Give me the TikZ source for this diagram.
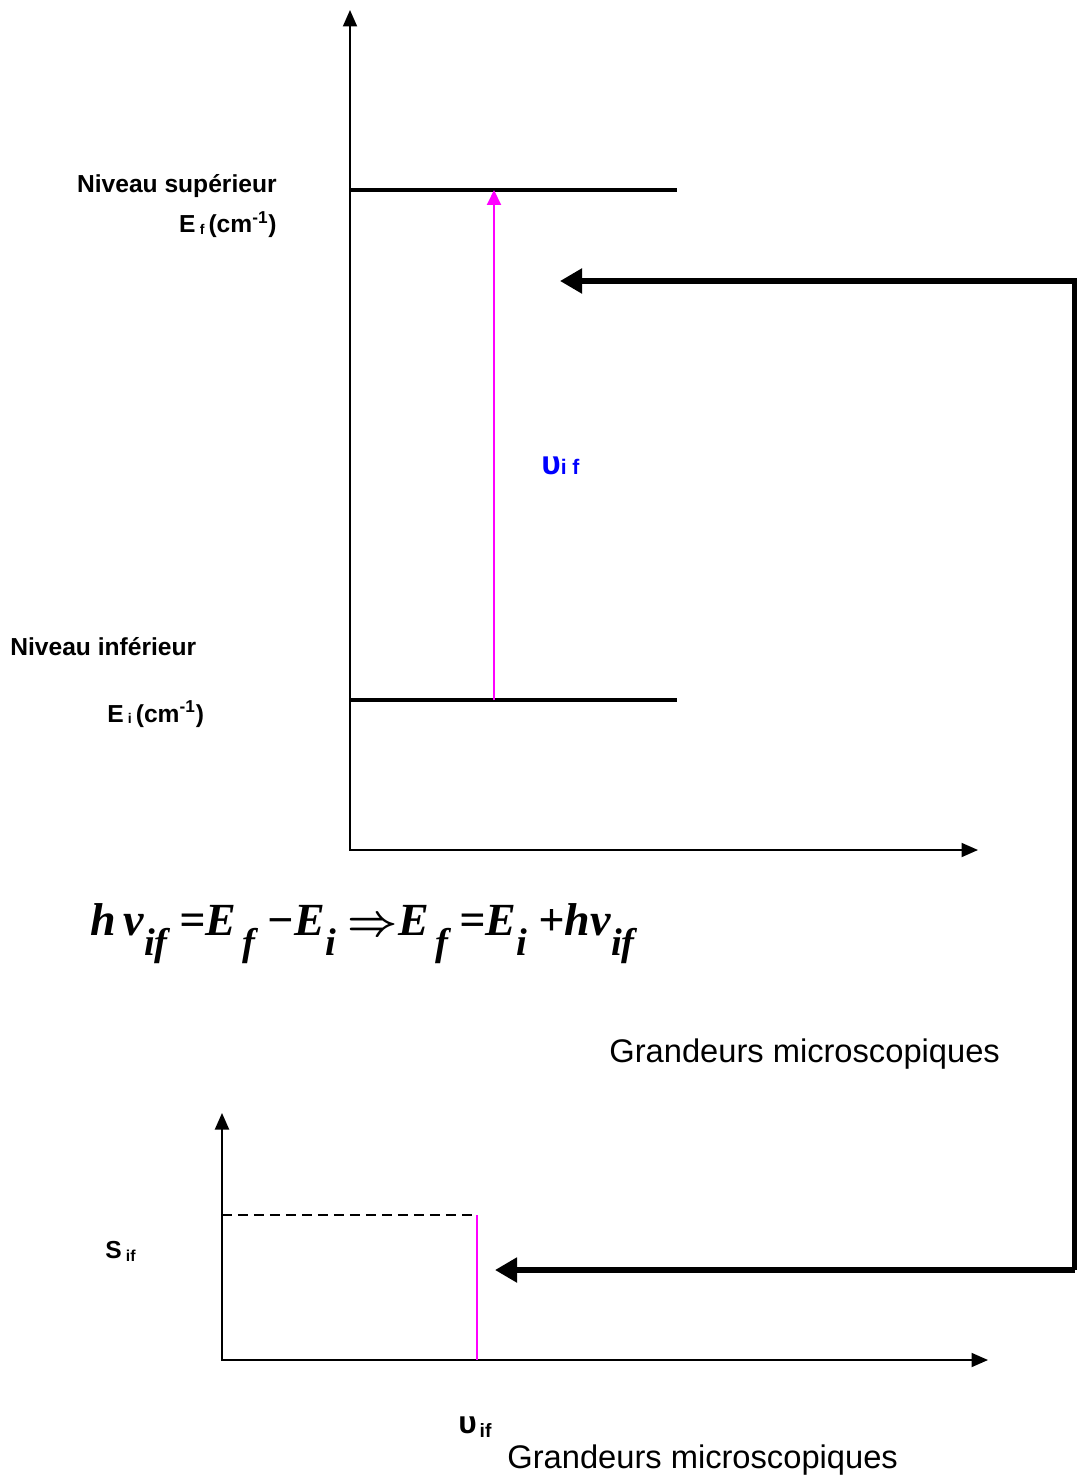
\documentclass[tikz,border=0pt]{standalone}
\usepackage{fontspec}
\setmainfont{Liberation Sans}
\newfontfamily\eqfont{Liberation Serif}
\usetikzlibrary{arrows.meta,positioning}
\tikzset{>=Stealth}
\definecolor{transmag}{RGB}{255,0,255}
\newcommand{\lowsub}[1]{\raisebox{-0.45em}{\fontsize{22}{22}\selectfont #1}}

\begin{document}
\begin{tikzpicture}[
    x=0.02cm, y=-0.02cm,
    axis/.style={line width=1.1pt, {Triangle[length=3.3mm,width=2.8mm]}-{Triangle[length=3.3mm,width=2.8mm]}},
    level/.style={line width=2.3pt},
    link/.style={line width=2.9pt, line join=miter, -{Triangle[length=4.4mm,width=4.8mm]}},
    trans/.style={transmag, line width=1.1pt},
    lbl/.style={font=\fontsize{14}{16}\selectfont\bfseries, inner sep=0pt},
    big/.style={font=\fontsize{18.6}{22}\selectfont, inner sep=0pt}
  ]
    \useasboundingbox (0,0) rectangle (1077,1476);
    % energy levels
    \coordinate (o1) at (350,850);
    \coordinate (ytop1) at (350,10);
    \coordinate (xend1) at (978,850);
    \draw[axis] (ytop1) -- (o1) -- (xend1);
    \coordinate (ef0) at (350,190); \coordinate (ef1) at (677,190);
    \coordinate (ei0) at (350,700); \coordinate (ei1) at (677,700);
    \draw[level] (ef0) -- (ef1);
    \draw[level] (ei0) -- (ei1);
    \coordinate (absbot) at (494,700); \coordinate (abstop) at (494,190);
    \draw[trans, -{Triangle[length=3mm,width=2.8mm]}] (absbot) -- (abstop);
    \node[lbl, anchor=base east] (sup) at (277,193) {Niveau supérieur};
    \node[lbl, anchor=base east] (ef) at (277,233) {E\,\raisebox{-0.15ex}{\fontsize{8}{8}\selectfont f}\,(cm\textsuperscript{-1})};
    \node[lbl, anchor=base west] (inf) at (10,655) {Niveau inférieur};
    \node[lbl, anchor=base west] (ei) at (107,722) {E\,\raisebox{-0.15ex}{\fontsize{8}{8}\selectfont i}\,(cm\textsuperscript{-1})};
    \node[anchor=base west, inner sep=0pt, text=blue, font=\bfseries] (nu1) at (541,474)
      {{\fontsize{19}{20}\selectfont υ}{\fontsize{12}{12}\selectfont i f}};
    % relation
    \node[anchor=base west, inner sep=0pt, font=\eqfont\bfseries\itshape\fontsize{26.2}{30}\selectfont] (eq) at (90,935)
      {h\,ν\lowsub{if} =E\lowsub{\,f} −E\lowsub{i} {\boldmath$\Rightarrow$}E\lowsub{\,f} =E\lowsub{i} +hν\lowsub{if}};
    \node[big, anchor=base west] (micro1) at (609,1062) {Grandeurs microscopiques};
    % spectrum
    \coordinate (o2) at (222,1360);
    \coordinate (ytop2) at (222,1113);
    \coordinate (xend2) at (988,1360);
    \draw[axis] (ytop2) -- (o2) -- (xend2);
    \coordinate (s0) at (222,1215); \coordinate (s1) at (477,1215);
    \coordinate (peak) at (477,1360);
    \draw[line width=1.4pt, dash pattern=on 5.7pt off 3.4pt] (s0) -- (s1);
    \draw[trans] (s1) -- (peak);
    \node[lbl, anchor=base west] (sif) at (105,1258) {S\,\raisebox{-0.3ex}{\fontsize{9}{9}\selectfont if}};
    \node[anchor=base west, inner sep=0pt, font=\bfseries] (nu2) at (458,1433)
      {{\fontsize{18}{20}\selectfont υ}\,\raisebox{-0.5ex}{\fontsize{11}{11}\selectfont if}};
    \node[big, anchor=base west] (micro2) at (507,1468) {Grandeurs microscopiques};
    % links
    \coordinate (corner) at (1074.5,1270);
    \coordinate (rtop) at (1074.5,281);
    \coordinate (uptip) at (560,281);
    \coordinate (lowtip) at (495,1270);
    \draw[link] (corner) -- (rtop) -- (uptip);
    \draw[link] (corner) -- (lowtip);
  \end{tikzpicture}
\end{document}
